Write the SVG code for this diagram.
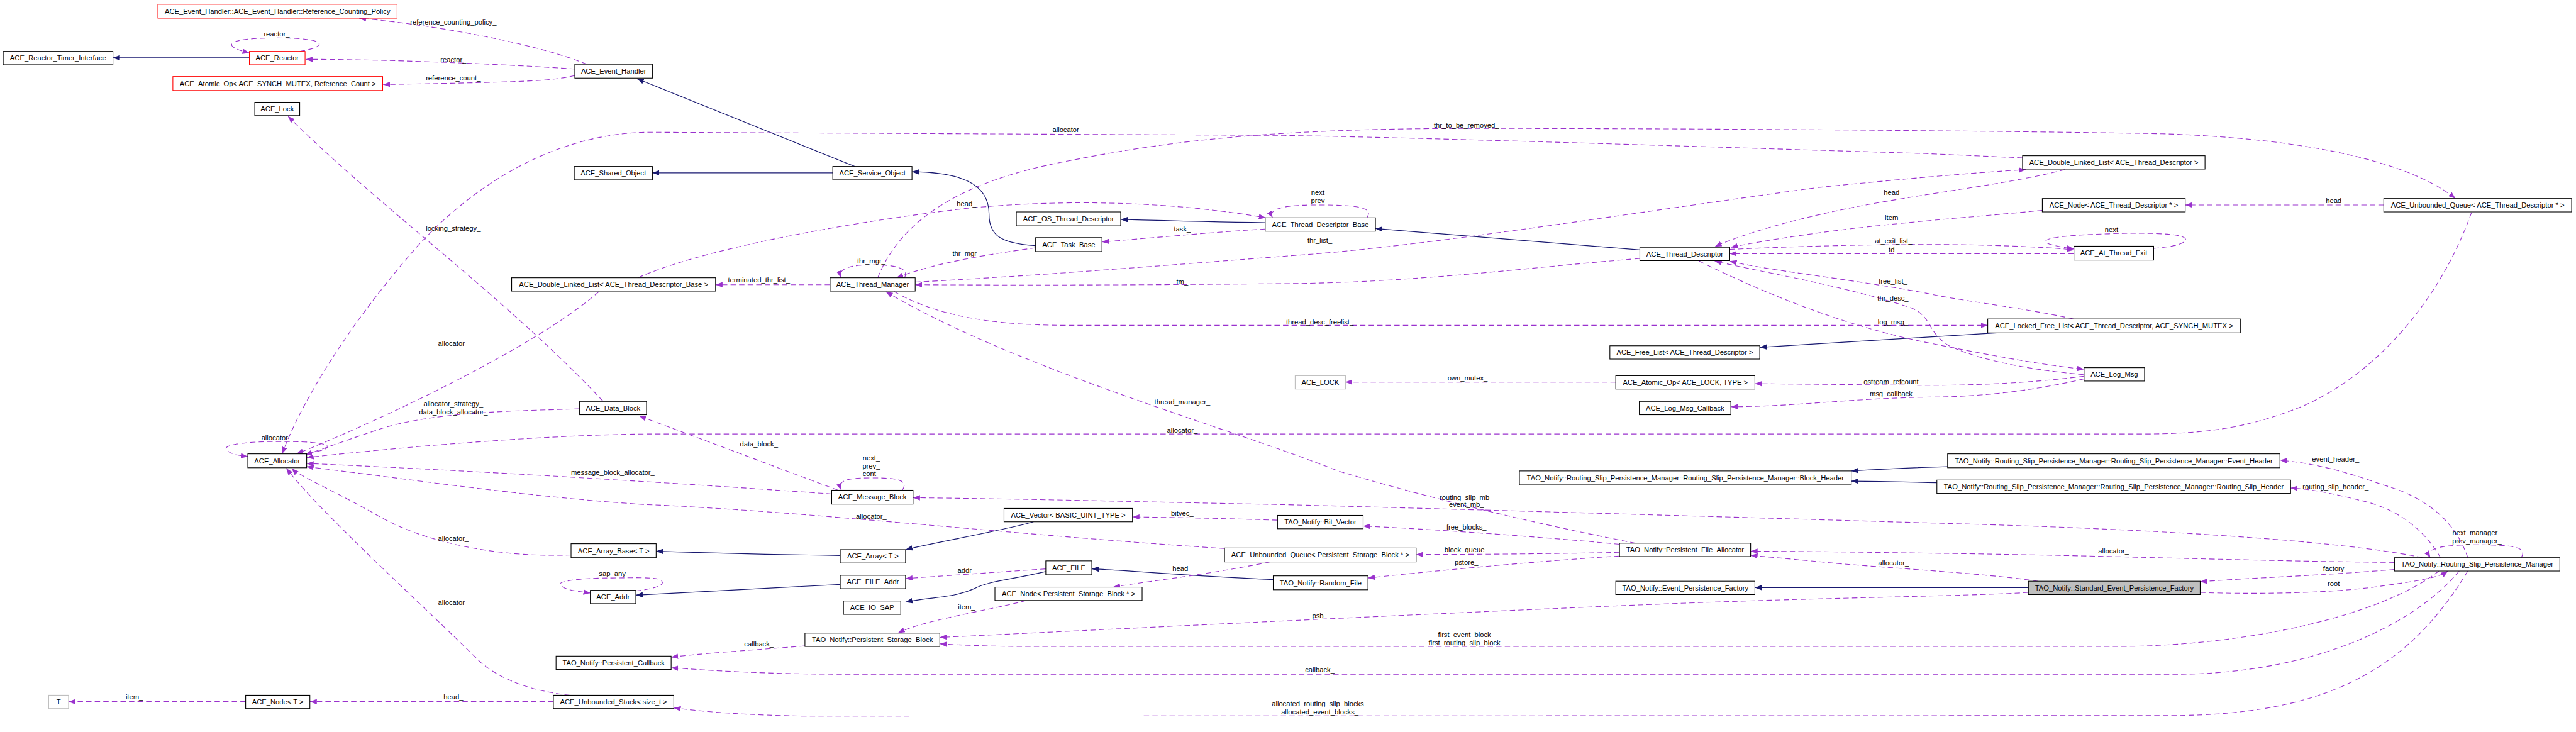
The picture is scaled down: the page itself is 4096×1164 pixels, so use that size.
<svg xmlns="http://www.w3.org/2000/svg" width="4096" height="1164" viewBox="0 0 4096 1164">
<defs>
<style>
.n rect{fill:#fff;stroke:#000;stroke-width:1.3}
.red rect{stroke:#f00}
.gray rect{stroke:#bfbfbf}
.sel rect{fill:#bfbfbf}
text{font-family:"Liberation Sans",Arial,sans-serif;font-size:13.2px;text-anchor:middle;fill:#000}
.u{fill:none;stroke:#9a32cd;stroke-width:1.3;stroke-dasharray:10,6;marker-end:url(#ua)}
.i{fill:none;stroke:#191970;stroke-width:1.4;marker-end:url(#ia)}
</style>
<marker id="ua" markerUnits="userSpaceOnUse" markerWidth="14" markerHeight="10" refX="13" refY="5" orient="auto"><path d="M0,0 L13,5 L0,10 z" fill="#9a32cd"/></marker>
<marker id="ia" markerUnits="userSpaceOnUse" markerWidth="14" markerHeight="10" refX="13" refY="5" orient="auto"><path d="M0,0 L13,5 L0,10 z" fill="#191970"/></marker>
</defs>
<rect width="4096" height="1164" fill="#fff"/>
<g transform="scale(0.851)">
<g id="connectors">
<!-- inheritance -->
<path class="i" d="M466,108 L211,108"/>
<path class="i" d="M1597,311 L1190,147"/>
<path class="i" d="M1556,323 L1219,323"/>
<path class="i" d="M1935,459 C1870,455 1848,440 1848,400 C1848,340 1790,322 1704,321"/>
<path class="i" d="M2364,416 C2280,415 2200,413 2094,410"/>
<path class="i" d="M3064,467 L2570,427"/>
<path class="i" d="M3731,622 L3600,630 L3288,649"/>
<path class="i" d="M1570,1038 C1430,1036 1290,1032 1226,1030"/>
<path class="i" d="M1931,975 C1880,990 1740,1015 1692,1027"/>
<path class="i" d="M1570,1092 L1188,1112"/>
<path class="i" d="M1954,1068 C1880,1085 1850,1085 1820,1100 C1780,1118 1740,1115 1692,1125"/>
<path class="i" d="M2379,1083 C2200,1075 2100,1065 2040,1063"/>
<path class="i" d="M3639,872 C3560,874 3510,877 3459,880"/>
<path class="i" d="M3619,902 C3560,901 3510,899 3459,899"/>
<path class="i" d="M3790,1098 L3279,1098"/>
<!-- usage -->
<path class="u" d="M1096,120 C1000,80 800,45 671,34"/>
<path class="u" d="M1074,129 C950,120 700,110 571,111"/>
<path class="u" d="M1074,141 C1030,152 980,153 716,158"/>
<path class="u" d="M560,96 C610,88 620,71 517,71 C420,71 412,86 466,99"/>
<path class="u" d="M1127,750 C950,560 700,380 538,217"/>
<path class="u" d="M3779,295 L3600,287 C3300,278 2700,258 2400,253 L1210,247 C1050,250 900,330 780,460 C640,620 560,760 527,848"/>
<path class="u" d="M1640,519 C1680,420 1780,340 2000,300 C2200,260 2400,240 2750,240 C3200,240 3800,245 4040,250 C4300,258 4500,300 4588,371"/>
<path class="u" d="M1119,545 C1000,650 700,790 554,848"/>
<path class="u" d="M1083,764 C950,768 800,770 700,805 C640,825 600,840 570,850"/>
<path class="u" d="M4618,397 C4560,560 4440,700 4300,760 C4200,800 4120,811 4000,811 L1210,811 C1050,812 800,830 573,855"/>
<path class="u" d="M1554,923 C1300,905 900,880 573,866"/>
<path class="u" d="M2288,1025 C1900,1000 1500,955 1210,943 C1000,930 800,900 573,872"/>
<path class="u" d="M1067,1037 C950,1042 800,1020 700,960 C620,915 560,890 545,875"/>
<path class="u" d="M1065,1299 C980,1290 920,1262 887,1227 C800,1140 600,960 535,875"/>
<path class="u" d="M560,848 C600,845 630,835 600,829 C580,825 550,825 517,825 C470,825 415,830 423,840 C428,848 445,851 463,853"/>
<path class="u" d="M1566,916 L1194,777"/>
<path class="u" d="M1686,916 C1700,895 1670,893 1628,893 C1580,893 1565,898 1572,916"/>
<path class="u" d="M1551,532 L1337,532"/>
<path class="u" d="M1690,519 C1700,500 1670,495 1632,495 C1590,495 1566,500 1571,519"/>
<path class="u" d="M1935,463 C1850,475 1750,490 1675,519"/>
<path class="u" d="M3064,483 C2850,500 2650,528 2400,530 C2100,533 1900,533 1710,532"/>
<path class="u" d="M1710,527 C1950,515 2250,490 2450,475 C2700,455 3100,390 3400,350 C3600,330 3700,322 3785,317"/>
<path class="u" d="M3858,317 C3750,345 3600,360 3450,390 C3330,415 3250,440 3204,461"/>
<path class="u" d="M3816,393 C3650,410 3450,420 3234,462"/>
<path class="u" d="M3232,466 C3400,458 3600,455 3700,458 C3780,460 3840,463 3875,467"/>
<path class="u" d="M3875,474 L3232,474"/>
<path class="u" d="M4024,464 C4090,460 4110,440 4040,437 C4000,435 3960,436 3940,437 C3820,440 3780,452 3875,465"/>
<path class="u" d="M3874,596 C3780,575 3650,560 3600,548 C3450,520 3300,505 3232,488"/>
<path class="u" d="M3893,700 C3780,690 3690,670 3640,645 C3600,620 3610,590 3570,575 C3450,535 3300,510 3204,488"/>
<path class="u" d="M3175,488 C3300,550 3450,610 3600,640 C3700,660 3800,680 3894,690"/>
<path class="u" d="M1671,545 C1750,590 1850,608 2000,608 L3714,608"/>
<path class="u" d="M3894,703 C3800,715 3700,720 3600,720 L3279,717"/>
<path class="u" d="M3894,708 C3800,730 3700,742 3600,742 C3450,745 3350,760 3234,760"/>
<path class="u" d="M3019,714 L2514,714"/>
<path class="u" d="M3056,1015 C2850,975 2650,925 2500,880 C2300,800 1900,690 1655,545"/>
<path class="u" d="M4526,1042 C4400,1015 4100,990 3600,977 C3200,965 2600,948 2400,943 C2100,937 1900,932 1706,930"/>
<path class="u" d="M4611,1042 C4590,980 4540,930 4449,905 C4380,880 4320,865 4260,860"/>
<path class="u" d="M4560,1042 C4530,990 4480,950 4410,935 C4350,920 4310,913 4280,912"/>
<path class="u" d="M4711,1042 C4720,1025 4710,1018 4626,1018 C4560,1018 4530,1025 4541,1042"/>
<path class="u" d="M4474,1051 C4200,1048 4000,1040 3700,1035 C3500,1032 3350,1030 3271,1030"/>
<path class="u" d="M3808,1086 C3700,1070 3500,1060 3403,1050 C3350,1045 3300,1040 3271,1038"/>
<path class="u" d="M4474,1064 C4350,1075 4200,1080 4111,1087"/>
<path class="u" d="M4111,1107 C4200,1110 4350,1110 4450,1095 C4520,1085 4555,1080 4574,1067"/>
<path class="u" d="M3790,1107 C3700,1113 3500,1115 3200,1125 C2800,1140 2200,1170 1756,1191"/>
<path class="u" d="M4557,1067 C4450,1150 4200,1208 3950,1208 L1900,1208 C1830,1207 1790,1205 1756,1203"/>
<path class="u" d="M4595,1067 C4500,1180 4300,1260 4063,1260 L1600,1260 C1400,1260 1300,1250 1254,1248"/>
<path class="u" d="M4611,1067 C4500,1250 4350,1335 4063,1337 L1500,1338 C1350,1335 1300,1327 1259,1323"/>
<path class="u" d="M1504,1207 C1400,1215 1300,1222 1254,1228"/>
<path class="u" d="M1918,1122 C1850,1140 1720,1160 1678,1183"/>
<path class="u" d="M2373,1050 C2250,1075 2150,1085 2080,1097"/>
<path class="u" d="M1954,1063 C1850,1070 1780,1075 1692,1081"/>
<path class="u" d="M1188,1104 C1230,1100 1250,1090 1230,1082 C1210,1078 1170,1080 1144,1080 C1090,1080 1040,1085 1047,1093 C1055,1103 1080,1105 1103,1108"/>
<path class="u" d="M3026,1017 C2900,1005 2700,990 2547,983"/>
<path class="u" d="M3026,1032 C2900,1035 2750,1036 2646,1036"/>
<path class="u" d="M3026,1039 C2850,1050 2650,1070 2556,1080"/>
<path class="u" d="M2387,972 C2300,969 2200,967 2116,966"/>
<path class="u" d="M4454,383 L4083,383"/>
<path class="u" d="M1192,519 C1300,470 1550,420 1800,390 C2000,370 2200,378 2365,407"/>
<path class="u" d="M2554,407 C2565,390 2550,383 2460,383 C2400,383 2368,390 2378,407"/>
<path class="u" d="M2364,428 C2250,435 2150,445 2059,452"/>
<path class="u" d="M1034,1311 L579,1311"/>
<path class="u" d="M459,1311 L128,1311"/>
</g>
<g id="labels">
<text x="847" y="46">reference_counting_policy_</text>
<text x="517" y="68">reactor_</text>
<text x="847" y="116">reactor_</text>
<text x="847" y="150">reference_count_</text>
<text x="847" y="431">locking_strategy_</text>
<text x="1995" y="247">allocator_</text>
<text x="2740" y="239">thr_to_be_removed_</text>
<text x="2466" y="364">next_</text>
<text x="2466" y="379">prev_</text>
<text x="1806" y="385">head_</text>
<text x="3538" y="364">head_</text>
<text x="3538" y="411">item_</text>
<text x="2209" y="432">task_</text>
<text x="2466" y="454">thr_list_</text>
<text x="3538" y="455">at_exit_list_</text>
<text x="3538" y="471">td_</text>
<text x="3949" y="434">next_</text>
<text x="4364" y="380">head_</text>
<text x="1806" y="478">thr_mgr_</text>
<text x="1628" y="492">thr_mgr_</text>
<text x="1418" y="528">terminated_thr_list_</text>
<text x="2209" y="531">tm_</text>
<text x="3537" y="530">free_list_</text>
<text x="3537" y="562">thr_desc_</text>
<text x="3537" y="606">log_msg_</text>
<text x="2466" y="606">thread_desc_freelist_</text>
<text x="847" y="646">allocator_</text>
<text x="2742" y="711">own_mutex_</text>
<text x="3537" y="718">ostream_refcount_</text>
<text x="3537" y="740">msg_callback_</text>
<text x="2209" y="756">thread_manager_</text>
<text x="847" y="759">allocator_strategy_</text>
<text x="847" y="774">data_block_allocator_</text>
<text x="2209" y="808">allocator_</text>
<text x="517" y="822">allocator_</text>
<text x="1418" y="834">data_block_</text>
<text x="1628" y="860">next_</text>
<text x="1628" y="875">prev_</text>
<text x="1628" y="890">cont_</text>
<text x="4364" y="862">event_header_</text>
<text x="1145" y="887">message_block_allocator_</text>
<text x="4364" y="914">routing_slip_header_</text>
<text x="2740" y="934">routing_slip_mb_</text>
<text x="2740" y="947">event_mb_</text>
<text x="2209" y="964">bitvec_</text>
<text x="1628" y="970">allocator_</text>
<text x="2740" y="990">free_blocks_</text>
<text x="4628" y="1000">next_manager_</text>
<text x="4628" y="1015">prev_manager_</text>
<text x="847" y="1010">allocator_</text>
<text x="2740" y="1032">block_queue_</text>
<text x="3949" y="1034">allocator_</text>
<text x="2740" y="1055">pstore_</text>
<text x="3538" y="1056">allocator_</text>
<text x="2209" y="1067">head_</text>
<text x="4364" y="1067">factory_</text>
<text x="1806" y="1071">addr_</text>
<text x="1144" y="1076">sap_any</text>
<text x="4364" y="1095">root_</text>
<text x="847" y="1130">allocator_</text>
<text x="1806" y="1139">item_</text>
<text x="2466" y="1155">psb_</text>
<text x="2740" y="1190">first_event_block_</text>
<text x="2740" y="1206">first_routing_slip_block_</text>
<text x="1418" y="1208">callback_</text>
<text x="2466" y="1256">callback_</text>
<text x="251" y="1307">item_</text>
<text x="847" y="1307">head_</text>
<text x="2466" y="1320">allocated_routing_slip_blocks_</text>
<text x="2466" y="1335">allocated_event_blocks_</text>
</g>
<g id="n_rcp" class="n red"><rect x="295" y="8" width="447" height="26"/><text x="518.5" y="25.5">ACE_Event_Handler::ACE_Event_Handler::Reference_Counting_Policy</text></g>
<g id="n_rti" class="n"><rect x="6" y="96" width="205" height="25"/><text x="108.5" y="113">ACE_Reactor_Timer_Interface</text></g>
<g id="n_reactor" class="n red"><rect x="466" y="96" width="104" height="25"/><text x="518" y="113">ACE_Reactor</text></g>
<g id="n_aop_sm" class="n red"><rect x="323" y="143" width="392" height="26"/><text x="519" y="160.5">ACE_Atomic_Op&lt; ACE_SYNCH_MUTEX, Reference_Count &gt;</text></g>
<g id="n_lock" class="n"><rect x="476" y="191" width="84" height="25"/><text x="518" y="208">ACE_Lock</text></g>
<g id="n_eh" class="n"><rect x="1074" y="120" width="145" height="26"/><text x="1146.5" y="137.5">ACE_Event_Handler</text></g>
<g id="n_shared" class="n"><rect x="1073" y="311" width="146" height="25"/><text x="1146" y="328">ACE_Shared_Object</text></g>
<g id="n_svc" class="n"><rect x="1556" y="311" width="148" height="25"/><text x="1630" y="328">ACE_Service_Object</text></g>
<g id="n_ostd" class="n"><rect x="1899" y="396" width="195" height="26"/><text x="1996.5" y="413.5">ACE_OS_Thread_Descriptor</text></g>
<g id="n_task" class="n"><rect x="1935" y="444" width="124" height="26"/><text x="1997" y="461.5">ACE_Task_Base</text></g>
<g id="n_tdb" class="n"><rect x="2364" y="407" width="206" height="25"/><text x="2467" y="424">ACE_Thread_Descriptor_Base</text></g>
<g id="n_dll_td" class="n"><rect x="3779" y="291" width="341" height="25"/><text x="3949.5" y="308">ACE_Double_Linked_List&lt; ACE_Thread_Descriptor &gt;</text></g>
<g id="n_node_td" class="n"><rect x="3816" y="371" width="267" height="25"/><text x="3949.5" y="388">ACE_Node&lt; ACE_Thread_Descriptor * &gt;</text></g>
<g id="n_uq_td" class="n"><rect x="4454" y="371" width="351" height="25"/><text x="4629.5" y="388">ACE_Unbounded_Queue&lt; ACE_Thread_Descriptor * &gt;</text></g>
<g id="n_dll_tdb" class="n"><rect x="956" y="519" width="381" height="25"/><text x="1146.5" y="536">ACE_Double_Linked_List&lt; ACE_Thread_Descriptor_Base &gt;</text></g>
<g id="n_db" class="n"><rect x="1083" y="750" width="125" height="25"/><text x="1145.5" y="767">ACE_Data_Block</text></g>
<g id="n_alloc" class="n"><rect x="463" y="848" width="110" height="26"/><text x="518" y="865.5">ACE_Allocator</text></g>
<g id="n_tm" class="n"><rect x="1551" y="519" width="159" height="25"/><text x="1630.5" y="536">ACE_Thread_Manager</text></g>
<g id="n_td" class="n"><rect x="3064" y="462" width="168" height="25"/><text x="3148" y="479">ACE_Thread_Descriptor</text></g>
<g id="n_fl" class="n"><rect x="3008" y="646" width="280" height="25"/><text x="3148" y="663">ACE_Free_List&lt; ACE_Thread_Descriptor &gt;</text></g>
<g id="n_lockU" class="n gray"><rect x="2420" y="702" width="94" height="25"/><text x="2467" y="719">ACE_LOCK</text></g>
<g id="n_aop_lock" class="n"><rect x="3019" y="702" width="260" height="25"/><text x="3149" y="719">ACE_Atomic_Op&lt; ACE_LOCK, TYPE &gt;</text></g>
<g id="n_lmc" class="n"><rect x="3063" y="750" width="171" height="25"/><text x="3148.5" y="767">ACE_Log_Msg_Callback</text></g>
<g id="n_bh" class="n"><rect x="2839" y="880" width="620" height="26"/><text x="3149" y="897.5">TAO_Notify::Routing_Slip_Persistence_Manager::Routing_Slip_Persistence_Manager::Block_Header</text></g>
<g id="n_ate" class="n"><rect x="3875" y="460" width="149" height="26"/><text x="3949.5" y="477.5">ACE_At_Thread_Exit</text></g>
<g id="n_lfl" class="n"><rect x="3714" y="596" width="472" height="26"/><text x="3950" y="613.5">ACE_Locked_Free_List&lt; ACE_Thread_Descriptor, ACE_SYNCH_MUTEX &gt;</text></g>
<g id="n_lm" class="n"><rect x="3894" y="687" width="113" height="25"/><text x="3950.5" y="704">ACE_Log_Msg</text></g>
<g id="n_evh" class="n"><rect x="3639" y="848" width="621" height="26"/><text x="3949.5" y="865.5">TAO_Notify::Routing_Slip_Persistence_Manager::Routing_Slip_Persistence_Manager::Event_Header</text></g>
<g id="n_rsh" class="n"><rect x="3619" y="897" width="661" height="25"/><text x="3949.5" y="914">TAO_Notify::Routing_Slip_Persistence_Manager::Routing_Slip_Persistence_Manager::Routing_Slip_Header</text></g>
<g id="n_T" class="n gray"><rect x="91" y="1299" width="37" height="25"/><text x="109.5" y="1316">T</text></g>
<g id="n_node_T" class="n"><rect x="459" y="1299" width="120" height="25"/><text x="519" y="1316">ACE_Node&lt; T &gt;</text></g>
<g id="n_us" class="n"><rect x="1034" y="1299" width="225" height="25"/><text x="1146.5" y="1316">ACE_Unbounded_Stack&lt; size_t &gt;</text></g>
<g id="n_ab" class="n"><rect x="1067" y="1016" width="159" height="26"/><text x="1146.5" y="1033.5">ACE_Array_Base&lt; T &gt;</text></g>
<g id="n_addr" class="n"><rect x="1103" y="1103" width="85" height="25"/><text x="1145.5" y="1120">ACE_Addr</text></g>
<g id="n_pc" class="n"><rect x="1039" y="1226" width="215" height="25"/><text x="1146.5" y="1243">TAO_Notify::Persistent_Callback</text></g>
<g id="n_mb" class="n"><rect x="1554" y="916" width="152" height="26"/><text x="1630" y="933.5">ACE_Message_Block</text></g>
<g id="n_vec" class="n"><rect x="1876" y="950" width="240" height="25"/><text x="1996" y="967">ACE_Vector&lt; BASIC_UINT_TYPE &gt;</text></g>
<g id="n_arr" class="n"><rect x="1570" y="1027" width="122" height="25"/><text x="1631" y="1044">ACE_Array&lt; T &gt;</text></g>
<g id="n_file" class="n"><rect x="1954" y="1048" width="86" height="26"/><text x="1997" y="1065.5">ACE_FILE</text></g>
<g id="n_fa" class="n"><rect x="1570" y="1075" width="122" height="25"/><text x="1631" y="1092">ACE_FILE_Addr</text></g>
<g id="n_node_psb" class="n"><rect x="1859" y="1097" width="275" height="25"/><text x="1996.5" y="1114">ACE_Node&lt; Persistent_Storage_Block * &gt;</text></g>
<g id="n_iosap" class="n"><rect x="1576" y="1123" width="107" height="25"/><text x="1629.5" y="1140">ACE_IO_SAP</text></g>
<g id="n_psb" class="n"><rect x="1504" y="1183" width="252" height="25"/><text x="1630" y="1200">TAO_Notify::Persistent_Storage_Block</text></g>
<g id="n_uq_psb" class="n"><rect x="2288" y="1024" width="358" height="26"/><text x="2467" y="1041.5">ACE_Unbounded_Queue&lt; Persistent_Storage_Block * &gt;</text></g>
<g id="n_bv" class="n"><rect x="2387" y="963" width="160" height="25"/><text x="2467" y="980">TAO_Notify::Bit_Vector</text></g>
<g id="n_rf" class="n"><rect x="2379" y="1076" width="177" height="26"/><text x="2467.5" y="1093.5">TAO_Notify::Random_File</text></g>
<g id="n_pfa" class="n"><rect x="3026" y="1015" width="245" height="25"/><text x="3148.5" y="1032">TAO_Notify::Persistent_File_Allocator</text></g>
<g id="n_epf" class="n"><rect x="3019" y="1086" width="260" height="25"/><text x="3149" y="1103">TAO_Notify::Event_Persistence_Factory</text></g>
<g id="n_rspm" class="n"><rect x="4474" y="1042" width="309" height="25"/><text x="4628.5" y="1059">TAO_Notify::Routing_Slip_Persistence_Manager</text></g>
<g id="n_sepf" class="n sel"><rect x="3790" y="1086" width="321" height="25"/><text x="3950.5" y="1103">TAO_Notify::Standard_Event_Persistence_Factory</text></g>
</g>
</svg>
